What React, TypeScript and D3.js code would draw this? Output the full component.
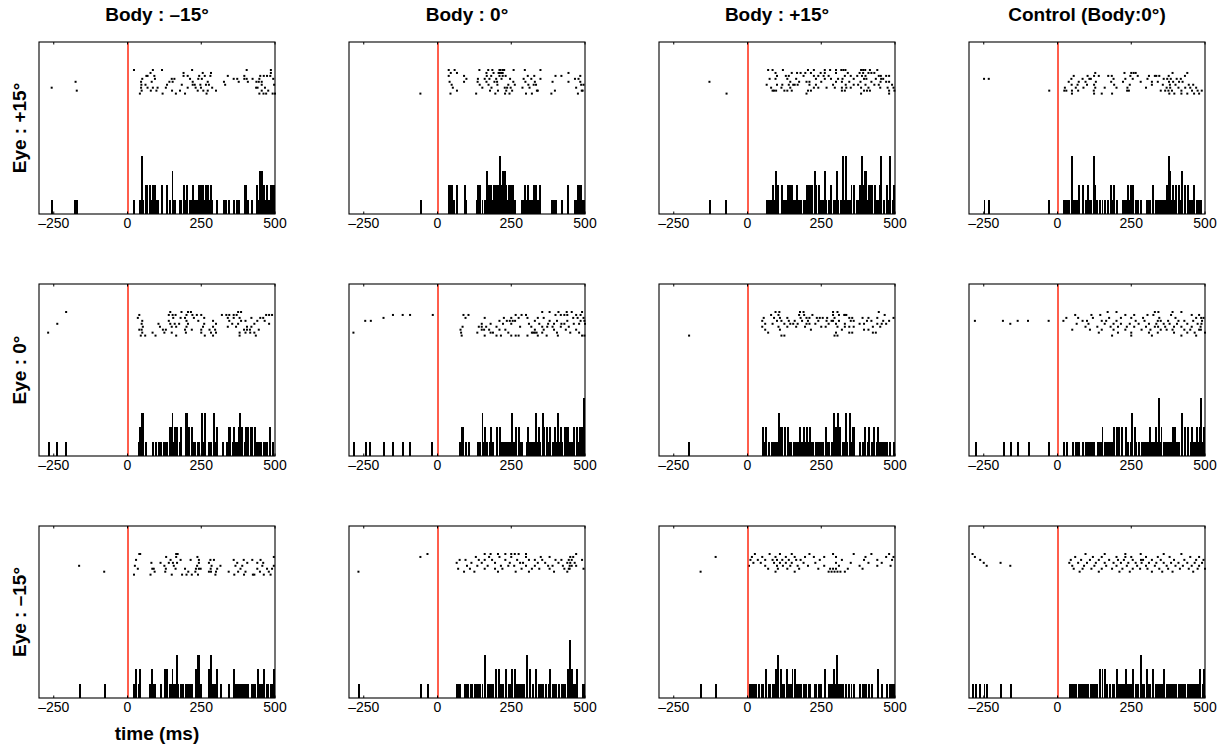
import React from "react";
import * as d3 from "d3";

const bodyLabels = ["Body : \u201315\u00b0", "Body : 0\u00b0", "Body : +15\u00b0", "Control (Body:0\u00b0)"];
const eyeLabels = ["Eye : +15\u00b0", "Eye : 0\u00b0", "Eye : \u201315\u00b0"];
const xTicks = [-250, 0, 250, 500];
const xTickLabels = ["\u2013250", "0", "250", "500"];
const xDomain = [-300, 500];
const binWidthMs = 5;
const xLabel = "time (ms)";

// Raster data: spike times (ms) per trial, top trial first
const r1c1 = [
  [22, 86, 117, 219, 404, 486],
  [78, 190, 255, 283, 486],
  [64, 68, 91, 190, 204, 243, 262, 281, 340, 396, 450, 462, 473, 484],
  [50, 93, 150, 159, 212, 240, 252, 360, 372, 396, 404, 424, 447, 494],
  [-176, 46, 82, 142, 153, 221, 272, 327, 377, 408, 437, 445, 455],
  [47, 61, 134, 184, 221, 228, 247, 266, 276, 331, 455, 497],
  [-257, 46, 68, 86, 102, 130, 204, 231, 249, 287, 436, 441, 466],
  [-172, 48, 79, 98, 151, 178, 238, 257, 272, 300, 455, 477],
  [42, 119, 164, 195, 268, 447, 461, 470, 492, 500],
];
const r1c2 = [
  [38, 58, 142, 172, 186, 210, 214, 258, 222, 226, 296, 349],
  [45, 66, 166, 190, 207, 211, 216, 221, 444],
  [38, 90, 167, 182, 210, 221, 231, 306, 328, 400, 420, 484],
  [98, 137, 160, 176, 199, 217, 246, 292, 318, 349, 466, 478],
  [41, 90, 136, 166, 193, 202, 257, 298, 330, 390, 444, 484],
  [48, 143, 173, 203, 240, 262, 308, 326, 334, 487, 495],
  [52, 152, 183, 236, 228, 248, 288, 312, 470],
  [66, 178, 205, 233, 253, 337, 340, 398, 489, 492],
  [-58, 44, 131, 196, 229, 244, 300, 320, 386, 476],
];
const r1c3 = [
  [70, 85, 120, 205, 225, 262, 280, 300, 318, 325, 332, 385, 392, 399, 415, 440],
  [95, 150, 168, 180, 196, 215, 248, 262, 300, 340, 380, 392, 410, 420, 430],
  [100, 130, 140, 190, 225, 240, 258, 275, 330, 350, 372, 388, 400, 445, 452, 470, 480],
  [75, 95, 135, 165, 232, 262, 283, 307, 322, 360, 395, 403, 435, 453, 460],
  [-129, 145, 175, 200, 210, 250, 300, 320, 345, 383, 420, 451, 470, 480],
  [65, 100, 118, 140, 155, 160, 170, 210, 232, 290, 333, 360, 375, 400, 430, 445, 490],
  [80, 115, 145, 225, 240, 268, 296, 320, 335, 350, 385, 410, 450, 475, 495],
  [85, 90, 97, 125, 135, 150, 205, 215, 320, 330, 395, 405, 415, 480, 498],
  [-71, 200, 385, 480],
];
const r1c4 = [
  [],
  [128, 227, 250, 258, 265, 390, 440],
  [55, 102, 124, 140, 172, 184, 247, 272, 310, 330, 335, 345, 377, 432],
  [-249, -233, 47, 85, 108, 113, 190, 230, 255, 305, 360, 372, 384, 404, 418],
  [38, 72, 95, 130, 182, 222, 282, 320, 340, 378, 392, 412, 424],
  [48, 68, 100, 124, 192, 245, 320, 357, 381, 400, 445, 460],
  [25, 62, 88, 128, 160, 200, 237, 300, 370, 382, 410, 433, 450, 470],
  [-28, 23, 30, 49, 70, 123, 236, 242, 350, 365, 376, 388, 420, 456, 475, 489],
  [49, 124, 150, 185, 379, 396, 420, 440, 463, 480],
];
const r2c1 = [
  [-208, 145, 183, 205, 215, 375, 385],
  [40, 140, 153, 163, 200, 220, 235, 250, 320, 335, 345, 360, 370, 470, 480, 490],
  [35, 155, 180, 195, 225, 260, 340, 360, 380, 420, 450, 460],
  [50, 140, 200, 240, 290, 345, 385, 400, 440, 465],
  [-238, 48, 105, 145, 160, 175, 205, 260, 300, 355, 375, 430, 480],
  [52, 110, 150, 165, 200, 256, 290, 340, 368, 405, 420],
  [40, 48, 120, 130, 195, 218, 250, 278, 297, 395, 405, 415, 445],
  [-269, 50, 85, 125, 150, 198, 250, 283, 300, 380, 400, 416, 430],
  [45, 60, 95, 165, 262, 290, 380, 435],
];
const r2c2 = [
  [355, 380, 410, 438, 455, 490],
  [-151, -118, -93, -16, 88, 105, 265, 285, 300, 400, 418, 430, 440, 470, 485],
  [-183, 95, 160, 225, 250, 275, 305, 340, 360, 460, 475, 495],
  [-245, -226, 210, 235, 245, 255, 263, 330, 380, 405, 440, 485, 498],
  [150, 180, 222, 250, 310, 345, 375, 395, 420, 430, 462, 480, 500],
  [85, 140, 150, 165, 200, 280, 318, 355, 372, 390, 418, 445],
  [78, 150, 158, 175, 210, 230, 330, 360, 395, 435, 470],
  [-285, 80, 135, 180, 188, 240, 320, 325, 330, 336, 355, 405, 450, 480],
  [82, 160, 200, 215, 250, 265, 275, 305, 340, 370, 408, 490, 498],
];
const r2c3 = [
  [95, 108, 178, 190, 290, 305, 445],
  [80, 105, 175, 192, 220, 290, 310, 328, 330, 335, 465],
  [55, 90, 110, 135, 180, 200, 210, 235, 245, 255, 270, 295, 345, 355, 390, 410, 440, 495],
  [50, 100, 115, 140, 160, 185, 205, 240, 268, 285, 290, 310, 350, 360, 405, 420, 460, 480],
  [60, 85, 125, 145, 155, 170, 200, 210, 230, 275, 300, 330, 380, 395, 440, 455, 470],
  [50, 105, 135, 165, 195, 250, 265, 305, 330, 345, 360, 425, 450],
  [60, 110, 215, 320, 395, 410],
  [70, 300, 345, 355, 425, 435],
  [-198, 115, 125, 295, 305],
];
const r2c4 = [
  [170, 200, 330, 342, 390, 420],
  [60, 115, 145, 230, 260, 305, 325, 385, 455, 480],
  [30, 70, 120, 175, 215, 250, 290, 345, 400, 470, 487, 495],
  [-280, -185, -135, -100, -30, 20, 85, 100, 150, 165, 200, 265, 295, 340, 350, 375, 410, 430, 460, 490],
  [-160, 65, 105, 160, 190, 215, 245, 275, 310, 335, 360, 380, 405, 440, 475, 488],
  [95, 135, 180, 205, 235, 260, 300, 330, 341, 365, 395, 420, 455, 485],
  [50, 110, 150, 190, 230, 285, 315, 350, 370, 390, 430, 450, 480, 486],
  [140, 205, 250, 310, 340, 395, 440, 465, 500],
  [185, 250, 320, 420, 470],
];
const r3c1 = [
  [40, 43, 165, 170],
  [131, 165, 237, 496],
  [29, 146, 180, 214, 242, 281, 293, 360, 394, 423, 451],
  [81, 112, 140, 154, 168, 242, 276, 372, 406, 440, 460],
  [-164, 25, 125, 157, 236, 285, 315, 366, 389, 457, 496],
  [35, 84, 89, 130, 163, 195, 232, 242, 248, 282, 304, 383, 440, 473, 490],
  [-79, 92, 128, 206, 230, 276, 283, 300, 343, 375, 400, 449, 479],
  [22, 78, 150, 185, 200, 218, 239, 298, 362, 395, 425, 430, 462, 485],
  [],
];
const r3c2 = [
  [-34, 160, 180, 205, 230, 250, 262, 275, 300, 470],
  [-58, 130, 175, 210, 250, 300, 350, 380, 450, 460],
  [75, 95, 140, 160, 185, 230, 270, 310, 330, 355, 400, 420, 445, 455, 490],
  [65, 115, 150, 195, 245, 280, 290, 340, 365, 410, 440, 450, 465],
  [100, 135, 170, 215, 240, 260, 300, 330, 375, 390, 425, 448, 455, 470],
  [70, 110, 160, 195, 220, 285, 320, 345, 380, 430, 445, 448, 495],
  [-268, 90, 125, 205, 265, 310, 395, 440],
  [],
  [],
];
const r3c3 = [
  [25, 75, 110, 150, 210, 290, 360, 420, 480],
  [-108, 15, 50, 95, 130, 160, 195, 225, 260, 300, 400, 470, 495],
  [10, 35, 60, 85, 100, 118, 140, 165, 180, 245, 320, 395, 440, 490],
  [20, 45, 90, 110, 130, 150, 190, 230, 300, 350, 410, 455],
  [5, 60, 100, 120, 145, 170, 205, 260, 310, 380, 440, 485],
  [70, 103, 135, 175, 240, 280, 290, 300, 340, 390],
  [-159, 95, 160, 275, 285, 295, 305, 315, 330],
  [],
  [],
];
const r3c4 = [
  [-288, 95, 160, 230, 282, 360, 420],
  [-280, 60, 120, 150, 200, 230, 250, 300, 340, 380, 450, 480],
  [-262, 45, 80, 110, 140, 175, 205, 225, 255, 283, 290, 320, 350, 395, 430, 470, 495],
  [-250, -193, 40, 70, 100, 130, 160, 190, 215, 240, 265, 285, 310, 335, 360, 385, 410, 440, 465, 490],
  [-240, -160, 50, 90, 125, 165, 200, 235, 270, 300, 330, 370, 400, 425, 455, 480],
  [55, 85, 115, 150, 185, 220, 255, 280, 305, 345, 375, 415, 445, 475, 500],
  [75, 140, 210, 245, 320, 355, 390, 460],
  [],
  [],
];

const grid = [
  [r1c1, r1c2, r1c3, r1c4],
  [r2c1, r2c2, r2c3, r2c4],
  [r3c1, r3c2, r3c3, r3c4],
];

const W = 1226;
const H = 745;
const colLeft = [39, 349, 659, 969];
const rowTop = [42, 284, 526];
const PW = 236;
const PH = 172;
const FONT = "'Liberation Sans', Arial, Helvetica, sans-serif";

function Panel({ trials, left, top }: { trials: number[][]; left: number; top: number }) {
  const x = d3.scaleLinear().domain(xDomain).range([left, left + PW]);
  const yc = d3.scaleLinear().domain([0, 11.9]).range([top + PH, top]);
  const yt = d3.scaleLinear().domain([0, 8]).range([top + 28, top + 28 + 8 * 2.95]);
  const all = trials.flat();
  const bins = d3
    .bin()
    .domain(xDomain as [number, number])
    .thresholds(d3.range(xDomain[0], xDomain[1], binWidthMs))(all);
  const x0 = Math.round(x(0));
  return (
    <g>
      {bins
        .filter((b) => b.length > 0)
        .map((b, i) => (
          <rect
            key={"b" + i}
            x={x(b.x0 as number) - 0.25}
            width={x(b.x1 as number) - x(b.x0 as number) + 0.5}
            y={yc(b.length)}
            height={yc(0) - yc(b.length)}
            fill="#000"
            shapeRendering="crispEdges"
          />
        ))}
      {trials.map((tr, ti) =>
        tr.map((t, k) => (
          <rect key={"d" + ti + "_" + k} x={x(t) - 1} y={yt(ti) - 1} width={2} height={2} fill="#000" />
        ))
      )}
      <rect x={x0 - 0.75} y={top} width={1.5} height={PH} fill="#ff2a12" />
      {xTicks.map((t) => (
        <g key={"t" + t}>
          <line x1={x(t)} x2={x(t)} y1={top} y2={top + 2.5} stroke="#000" strokeWidth={1} />
          <line x1={x(t)} x2={x(t)} y1={top + PH} y2={top + PH - 2.5} stroke="#000" strokeWidth={1} />
        </g>
      ))}
      <rect x={left} y={top} width={PW} height={PH} fill="none" stroke="#000" strokeWidth={1.1} />
      {xTicks.map((t, i) => (
        <text
          key={"l" + t}
          x={x(t)}
          y={top + PH + 14}
          textAnchor="middle"
          fontFamily={FONT}
          fontSize={14}
          fill="#000"
        >
          {xTickLabels[i]}
        </text>
      ))}
    </g>
  );
}

export default function App() {
  return (
    <svg width={W} height={H} style={{ display: "block", position: "absolute", left: 0, top: 0 }}>
      <rect width={W} height={H} fill="#fff" />
      {bodyLabels.map((s, c) => (
        <text
          key={"c" + c}
          x={colLeft[c] + PW / 2}
          y={21}
          textAnchor="middle"
          fontFamily={FONT}
          fontWeight="bold"
          fontSize={19}
        >
          {s}
        </text>
      ))}
      {eyeLabels.map((s, r) => (
        <text
          key={"r" + r}
          transform={`translate(${26},${rowTop[r] + PH / 2}) rotate(-90)`}
          textAnchor="middle"
          fontFamily={FONT}
          fontWeight="bold"
          fontSize={19}
        >
          {s}
        </text>
      ))}
      {grid.map((row, r) =>
        row.map((trials, c) => <Panel key={r + "_" + c} trials={trials} left={colLeft[c]} top={rowTop[r]} />)
      )}
      <text
        x={colLeft[0] + PW / 2}
        y={740}
        textAnchor="middle"
        fontFamily={FONT}
        fontWeight="bold"
        fontSize={19}
      >
        {xLabel}
      </text>
    </svg>
  );
}
